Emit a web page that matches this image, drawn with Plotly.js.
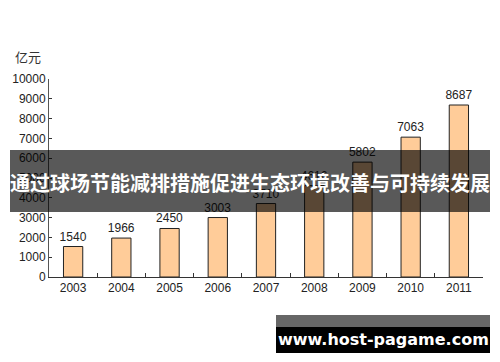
<!DOCTYPE html>
<html><head><meta charset="utf-8">
<script src="https://cdn.plot.ly/plotly-3.0.1.min.js"></script>
<style>html,body{margin:0;padding:0;background:#fff}#c{width:500px;height:362px}</style>
</head><body><div id="c"></div>
<script>
const years = ['2003','2004','2005','2006','2007','2008','2009','2010','2011'];
const values = [1540, 1966, 2450, 3003, 3710, 4616, 5802, 7063, 8687];
const unitLabel = '亿元';
const bannerText = '通过球场节能减排措施促进生态环境改善与可持续发展';
const watermark = 'www.host-pagame.com';

const L=49, R=17, T=79, B=85, W=500, H=362;
const pw=W-L-R, ph=H-T-B;
const px = x => (x-L)/pw;
const py = y => (H-B-y)/ph;

const trace = {
  type:'bar', x: years, y: values,
  marker:{color:'#FFCC99', line:{color:'#222', width:1}},
  text: values.map(String), textposition:'outside', cliponaxis:false, constraintext:'none',
  textfont:{family:'Liberation Sans, DejaVu Sans', size:12, color:'#222'},
  hoverinfo:'none'
};
const layout = {
  width:W, height:H, margin:{l:L, r:R, t:T, b:B},
  paper_bgcolor:'#fff', plot_bgcolor:'#fff', showlegend:false, bargap:0.6,
  xaxis:{type:'category', showline:true, linecolor:'#333', linewidth:1,
    ticks:'inside', ticklen:4, tickcolor:'#333', tickson:'boundaries',
    tickfont:{family:'Liberation Sans, DejaVu Sans', size:12, color:'#222'}, showgrid:false},
  yaxis:{range:[0,10000], dtick:1000, tickformat:'d', showline:true, linecolor:'#555', linewidth:1,
    ticks:'inside', ticklen:3, tickcolor:'#333', showgrid:false, zeroline:false,
    tickfont:{family:'Liberation Sans, DejaVu Sans', size:12, color:'#222'}},
  shapes:[
    {type:'rect', xref:'paper', yref:'paper', x0:px(10), x1:px(490), y0:py(150), y1:py(212),
      fillcolor:'rgba(0,0,0,0.65)', line:{width:0}, layer:'above'},
    {type:'rect', xref:'paper', yref:'paper', x0:px(276), x1:px(490), y0:py(315), y1:py(327),
      fillcolor:'#666', line:{width:0}, layer:'above'},
    {type:'rect', xref:'paper', yref:'paper', x0:px(276), x1:px(490), y0:py(327), y1:py(353),
      fillcolor:'#000', line:{width:0}, layer:'above'}
  ],
  annotations:[
    {text:unitLabel, xref:'paper', yref:'paper', x:px(28), y:py(56), showarrow:false,
      xanchor:'center', yanchor:'middle', font:{family:'Noto Sans CJK SC', size:13, color:'#333'}},
    {text:'<b>'+bannerText+'</b>', xref:'paper', yref:'paper', x:px(250), y:py(182), showarrow:false,
      xanchor:'center', yanchor:'middle', font:{family:'Noto Sans CJK SC', size:20, color:'#fff'}},
    {text:'<b>'+watermark+'</b>', xref:'paper', yref:'paper', x:px(383), y:py(339), showarrow:false,
      xanchor:'center', yanchor:'middle', font:{family:'DejaVu Sans', size:16, color:'#fff'}}
  ]
};
Plotly.newPlot('c',[trace],layout,{staticPlot:true});
</script></body></html>
